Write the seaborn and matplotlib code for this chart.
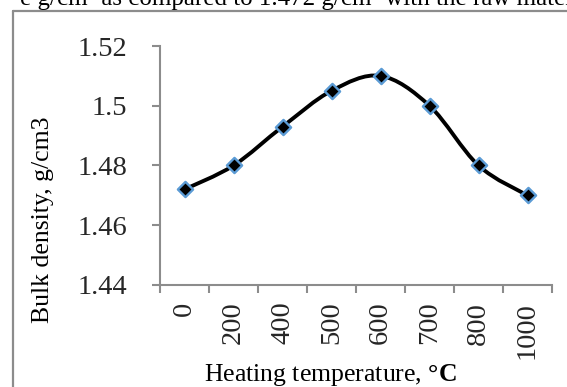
import numpy as np
import pandas as pd
import matplotlib
matplotlib.use("Agg")
import matplotlib.pyplot as plt
from matplotlib.path import Path
from matplotlib.patches import PathPatch
from matplotlib.lines import Line2D
import seaborn as sns

# ---- data ----
temperatures = ["0", "200", "400", "500", "600", "700", "800", "1000"]
bulk_density = [1.472, 1.480, 1.493, 1.505, 1.510, 1.500, 1.480, 1.470]
y_ticks = [1.44, 1.46, 1.48, 1.50, 1.52]
y_tick_labels = ["1.44", "1.46", "1.48", "1.5", "1.52"]
x_label = "Heating temperature, "
x_label_unit = "°C"
y_label = "Bulk density, g/cm3"
top_text = "e g/cm\u00b3 as compared to 1.472 g/cm\u00b3 with the raw material"

sns.set_theme(style="white")
plt.rcParams["font.family"] = ["Liberation Serif", "DejaVu Serif"]
plt.rcParams["mathtext.fontset"] = "custom"
plt.rcParams["mathtext.rm"] = "Liberation Serif"
plt.rcParams["mathtext.bf"] = "Liberation Serif:bold"

W, H = 567, 387
fig = plt.figure(figsize=(W / 100, H / 100), dpi=100)
fig.patch.set_facecolor("white")

# axes box in pixels: x 160..552, y 46..285
ax = fig.add_axes([160 / W, (H - 285) / H, 392 / W, 239 / H])

df = pd.DataFrame({"pos": np.arange(len(temperatures)), "density": bulk_density})

# smoothed line (Catmull-Rom style bezier through the data, like Excel's smoothing)
xs = df["pos"].to_numpy(dtype=float)
ys = df["density"].to_numpy(dtype=float)
verts = [(xs[0], ys[0])]
codes = [Path.MOVETO]
n = len(xs)
for i in range(n - 1):
    p0 = np.array([xs[max(i - 1, 0)], ys[max(i - 1, 0)]])
    p1 = np.array([xs[i], ys[i]])
    p2 = np.array([xs[i + 1], ys[i + 1]])
    p3 = np.array([xs[min(i + 2, n - 1)], ys[min(i + 2, n - 1)]])
    c1 = p1 + (p2 - p0) / 6.0
    c2 = p2 - (p3 - p1) / 6.0
    verts += [tuple(c1), tuple(c2), tuple(p2)]
    codes += [Path.CURVE4] * 3
ax.add_patch(PathPatch(Path(verts, codes), facecolor="none", edgecolor="black",
                       lw=2.8, zorder=2, capstyle="round"))

sns.scatterplot(data=df, x="pos", y="density", ax=ax, marker="D", s=60,
                color="black", edgecolor="#5b9bd5", linewidth=1.7, zorder=3,
                legend=False)

ax.set_xlim(-0.5, len(temperatures) - 0.5)
ax.set_ylim(1.44, 1.52)

# spines
for s in ["top", "right"]:
    ax.spines[s].set_visible(False)
for s in ["left", "bottom"]:
    ax.spines[s].set_color("#8c8c8c")
    ax.spines[s].set_linewidth(1.5)

# y ticks
ax.set_yticks(y_ticks)
ax.set_yticklabels(y_tick_labels, fontsize=20.5)
ax.tick_params(axis="y", direction="out", length=5.5, width=1.5, color="#8c8c8c",
               pad=18, left=True)

# x ticks: labels at category centers, tick marks at boundaries
ax.set_xticks(np.arange(len(temperatures)))
ax.set_xticklabels(temperatures, rotation=90, fontsize=20.5)
ax.set_xticks(np.arange(len(temperatures) + 1) - 0.5, minor=True)
ax.tick_params(axis="x", which="major", length=0, pad=12, bottom=True)
ax.tick_params(axis="x", which="minor", direction="out", length=6, width=1.5,
               color="#8c8c8c", bottom=True)
ax.set_xlabel("")
ax.set_ylabel("")

# axis labels
fig.text(330 / W, 1 - 375 / H, x_label + r"$\mathbf{" + x_label_unit + "}$",
         fontsize=18.5, ha="center", va="center", color="black")
fig.text(43 / W, 1 - 220 / H, y_label, fontsize=18.5, rotation=90,
         ha="center", va="center", color="black")

# page frame and cut-off text above the chart
fig.add_artist(Line2D([13 / W, 13 / W], [0, 1 - 11 / H], transform=fig.transFigure,
                      color="#8c8c8c", lw=1.6))
fig.add_artist(Line2D([13 / W, 1], [1 - 11 / H, 1 - 11 / H], transform=fig.transFigure,
                      color="#8c8c8c", lw=1.6))
fig.text(20 / W, 1 - 5 / H, top_text, fontsize=18, ha="left", va="baseline",
         color="black")

fig.savefig("out.png", dpi=100)
